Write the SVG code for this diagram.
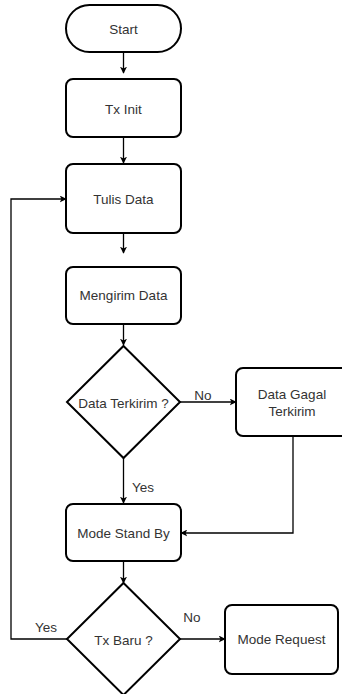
<svg xmlns="http://www.w3.org/2000/svg" width="342" height="694" viewBox="0 0 342 694">
<defs>
<marker id="arr" viewBox="0 0 10 10" refX="9" refY="5" markerWidth="7" markerHeight="7" markerUnits="userSpaceOnUse" orient="auto">
<path d="M0,0 L10,5 L0,10 L2.5,5 z" fill="#000"/>
</marker>
<style>
.n{fill:#fff;stroke:#000;stroke-width:2}
.t{font-family:"Liberation Sans",Arial,sans-serif;font-size:13.5px;fill:#333;text-anchor:middle;dominant-baseline:central}
.c{fill:none;stroke:#000;stroke-width:1.3}
.l{font-family:"Liberation Sans",Arial,sans-serif;font-size:13.5px;fill:#333;text-anchor:middle;dominant-baseline:central}
</style>
</defs>
<rect width="342" height="694" fill="#fff"/>
<g id="connectors">
<path class="c" d="M123.5,52 V73" marker-end="url(#arr)"/>
<path class="c" d="M123.5,137 V163" marker-end="url(#arr)"/>
<path class="c" d="M123.5,233 V253" marker-end="url(#arr)"/>
<path class="c" d="M123.5,324 V345" marker-end="url(#arr)"/>
<path class="c" d="M180,402 H236" marker-end="url(#arr)"/>
<text class="l" x="203" y="395">No</text>
<path class="c" d="M123.5,458 V503" marker-end="url(#arr)"/>
<text class="l" x="143" y="487">Yes</text>
<path class="c" d="M293,436 V533 H181" marker-end="url(#arr)"/>
<path class="c" d="M123.5,561 V583" marker-end="url(#arr)"/>
<path class="c" d="M67,639 H11 V199 H66" marker-end="url(#arr)"/>
<text class="l" x="46" y="627">Yes</text>
<path class="c" d="M180,639 H225" marker-end="url(#arr)"/>
<text class="l" x="192" y="617">No</text>
</g>
<g id="start">
<rect class="n" x="66" y="5" width="115" height="47" rx="23.5"/>
<text class="t" x="123.5" y="29">Start</text>
</g>
<g id="tx-init">
<rect class="n" x="66" y="79" width="115" height="58" rx="7"/>
<text class="t" x="123.5" y="109">Tx Init</text>
</g>
<g id="tulis-data">
<rect class="n" x="66" y="164" width="115" height="69" rx="7"/>
<text class="t" x="123.5" y="199">Tulis Data</text>
</g>
<g id="mengirim-data">
<rect class="n" x="66" y="267" width="115" height="57" rx="7"/>
<text class="t" x="123.5" y="295">Mengirim Data</text>
</g>
<g id="data-terkirim">
<polygon class="n" points="123.5,346 180,402 123.5,458 67,402"/>
<text class="t" x="123.5" y="403">Data Terkirim ?</text>
</g>
<g id="data-gagal">
<rect class="n" x="236" y="368" width="115" height="68" rx="7"/>
<text class="t" x="292" y="394">Data Gagal</text>
<text class="t" x="292" y="411">Terkirim</text>
</g>
<g id="mode-standby">
<rect class="n" x="66" y="504" width="115" height="57" rx="7"/>
<text class="t" x="123.5" y="533">Mode Stand By</text>
</g>
<g id="tx-baru">
<polygon class="n" points="123.5,583 180,639 123.5,695 67,639"/>
<text class="t" x="123.5" y="640">Tx Baru ?</text>
</g>
<g id="mode-request">
<rect class="n" x="225" y="605" width="113" height="69" rx="7"/>
<text class="t" x="281.5" y="639">Mode Request</text>
</g>
</svg>
